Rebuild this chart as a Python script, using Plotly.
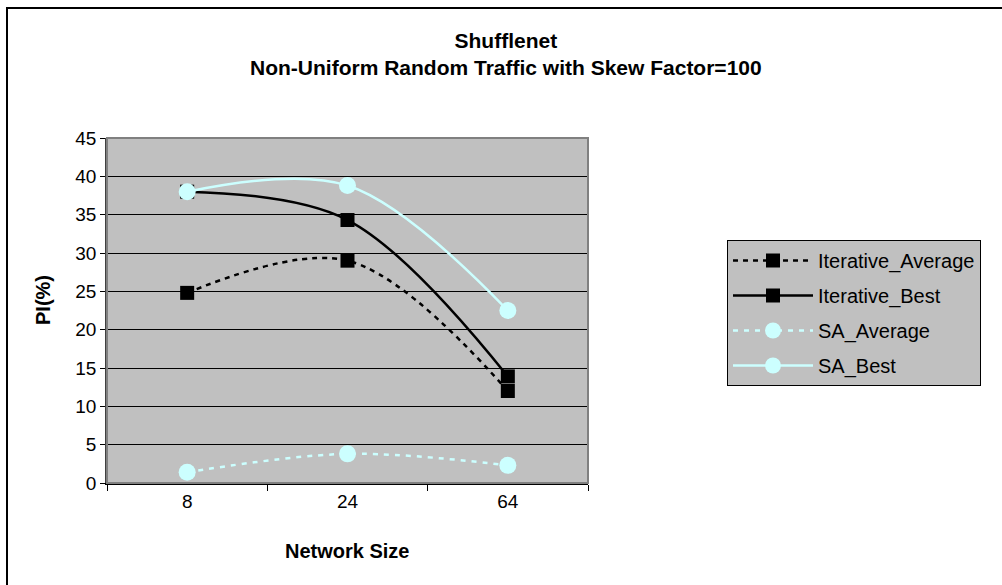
import plotly.graph_objects as go

# Shufflenet: performance improvement vs. network size
network_sizes = ["8", "24", "64"]
iterative_average = [24.8, 29.0, 12.0]
iterative_best = [38.0, 34.3, 13.9]
sa_average = [1.4, 3.8, 2.3]
sa_best = [38.0, 38.8, 22.5]
y_ticks = [0, 5, 10, 15, 20, 25, 30, 35, 40, 45]

BLACK = "#000000"
CYAN = "#CCFFFF"
FONT = "Liberation Sans, Arial, sans-serif"

# plot-area placement in pixels
W, H = 1002, 585
L, R, T, B = 107, 588, 138, 483


def px_x(px):
    return (px - L) / (R - L)


def px_y(py):
    return (B - py) / (B - T)


series = [
    ("Iterative_Average", iterative_average, BLACK, "5px,5px", "square", 14, 2.5),
    ("Iterative_Best", iterative_best, BLACK, "solid", "square", 14, 2.5),
    ("SA_Average", sa_average, CYAN, "5px,6px", "circle", 17, 2.5),
    ("SA_Best", sa_best, CYAN, "solid", "circle", 17, 2.5),
]

fig = go.Figure()
for name, vals, color, dash, sym, msize, lw in series:
    fig.add_trace(go.Scatter(
        x=network_sizes, y=vals, name=name, legendgroup=name,
        mode="lines+markers",
        line=dict(color=color, width=lw, dash=dash, shape="spline"),
        marker=dict(symbol=sym, size=msize, color=color, line=dict(width=0)),
    ))

fig.update_layout(
    width=W, height=H,
    margin=dict(l=L, r=W - R, t=T, b=H - B, autoexpand=False),
    paper_bgcolor="#FFFFFF",
    plot_bgcolor="#C0C0C0",
    font=dict(family=FONT, size=20, color=BLACK),
    showlegend=True,
    legend=dict(
        x=px_x(727), y=px_y(240), xanchor="left", yanchor="top",
        bgcolor="#C0C0C0", bordercolor=BLACK, borderwidth=1,
        font=dict(family=FONT, size=20, color=BLACK),
        itemwidth=80, tracegroupgap=6, traceorder="grouped",
    ),
    xaxis=dict(
        type="category", range=[-0.5, 2.5], tickson="boundaries",
        ticks="outside", ticklen=6, tickcolor=BLACK, tickwidth=1,
        showgrid=False, showline=True, linecolor=BLACK, linewidth=1.5,
        tickfont=dict(size=19), zeroline=False, fixedrange=True,
    ),
    yaxis=dict(
        range=[0, 45], tickvals=y_ticks,
        ticks="outside", ticklen=5, tickcolor=BLACK, tickwidth=1,
        showgrid=True, gridcolor=BLACK, gridwidth=1,
        showline=True, linecolor="#404040", linewidth=1.5,
        tickfont=dict(size=19), zeroline=False, fixedrange=True,
    ),
    shapes=[
        # plot-area frame
        dict(type="rect", xref="paper", yref="paper", x0=0, x1=1, y0=0, y1=1,
             line=dict(color="#808080", width=2), layer="above"),
        # chart border
        dict(type="rect", xref="paper", yref="paper",
             x0=px_x(7), x1=px_x(1100), y0=px_y(700), y1=px_y(8),
             line=dict(color=BLACK, width=2), layer="above"),
    ],
    annotations=[
        dict(text="<b>Shufflenet<br>Non-Uniform Random Traffic with Skew Factor=100</b>",
             xref="paper", yref="paper", x=px_x(506), y=px_y(27),
             xanchor="center", yanchor="top", showarrow=False,
             font=dict(family=FONT, size=21, color=BLACK)),
        dict(text="<b>Network Size</b>", xref="paper", yref="paper",
             x=px_x(347), y=px_y(551), xanchor="center", yanchor="middle",
             showarrow=False, font=dict(family=FONT, size=20, color=BLACK)),
        dict(text="<b>PI(%)</b>", xref="paper", yref="paper",
             x=px_x(43), y=px_y(300), xanchor="center", yanchor="middle",
             textangle=-90, showarrow=False,
             font=dict(family=FONT, size=20, color=BLACK)),
    ],
)

fig.write_html("out.html")
